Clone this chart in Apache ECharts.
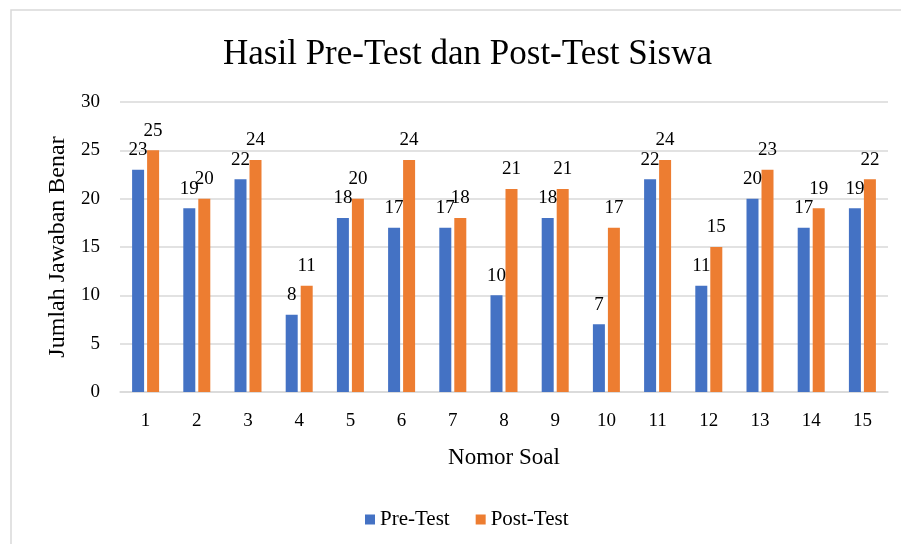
<!DOCTYPE html>
<html>
<head>
<meta charset="utf-8">
<script src="https://cdn.jsdelivr.net/npm/echarts@6/dist/echarts.min.js"></script>
<style>
  html, body { margin: 0; padding: 0; background: #fff; }
  #chart { width: 901px; height: 544px; }
</style>
</head>
<body>
<div id="chart"></div>
<script>
// data
const categories = ['1', '2', '3', '4', '5', '6', '7', '8', '9', '10', '11', '12', '13', '14', '15']
const preTest = [23, 19, 22, 8, 18, 17, 17, 10, 18, 7, 22, 11, 20, 17, 19]
const postTest = [25, 20, 24, 11, 20, 24, 18, 21, 21, 17, 24, 15, 23, 19, 22]

const serif = '"Liberation Serif", "Times New Roman", serif'

let chart = echarts.init(document.getElementById('chart'))

let barLabel = {
  show: true,
  position: 'top',
  distance: 10,
  color: '#000',
  fontFamily: serif,
  fontSize: 19
}

let option = {
  animation: false,
  textStyle: { fontFamily: serif },
  graphic: [
    {
      type: 'rect',
      shape: { x: 11, y: 10, width: 1000, height: 1000 },
      style: { fill: 'none', stroke: '#d9d9d9', lineWidth: 1.5 },
      silent: true
    }
  ],
  title: {
    text: 'Hasil Pre-Test dan Post-Test Siswa',
    left: 218,
    top: 32,
    textStyle: { fontFamily: serif, fontSize: 35, fontWeight: 'normal', color: '#000' }
  },
  legend: {
    bottom: 9,
    left: 360,
    itemWidth: 10,
    itemHeight: 10,
    itemGap: 26,
    icon: 'rect',
    textStyle: { fontFamily: serif, fontSize: 21, color: '#000' },
    data: ['Pre-Test', 'Post-Test']
  },
  grid: {
    left: 120,
    right: 13,
    top: 102,
    bottom: 152
  },
  xAxis: {
    type: 'category',
    data: categories,
    name: 'Nomor Soal',
    nameLocation: 'middle',
    nameGap: 54,
    nameTextStyle: { fontFamily: serif, fontSize: 23, color: '#000' },
    axisLine: { lineStyle: { color: '#d9d9d9', width: 1.5 } },
    axisTick: { show: false },
    axisLabel: { color: '#000', fontFamily: serif, fontSize: 19, margin: 20 }
  },
  yAxis: {
    type: 'value',
    min: 0,
    max: 30,
    interval: 5,
    name: 'Jumlah Jawaban Benar',
    nameLocation: 'middle',
    nameGap: 50,
    nameTextStyle: { fontFamily: serif, fontSize: 24, color: '#000' },
    axisLine: { show: false },
    axisTick: { show: false },
    axisLabel: { color: '#000', fontFamily: serif, fontSize: 19, margin: 20 },
    splitLine: { lineStyle: { color: '#d9d9d9', width: 1.5 } }
  },
  series: [
    {
      name: 'Pre-Test',
      type: 'bar',
      data: preTest,
      barWidth: 12,
      barGap: '25%',
      itemStyle: { color: '#4472C4' },
      label: barLabel
    },
    {
      name: 'Post-Test',
      type: 'bar',
      data: postTest,
      barWidth: 12,
      barGap: '25%',
      itemStyle: { color: '#ED7D31' },
      label: barLabel
    }
  ]
}

chart.setOption(option)
</script>
</body>
</html>
